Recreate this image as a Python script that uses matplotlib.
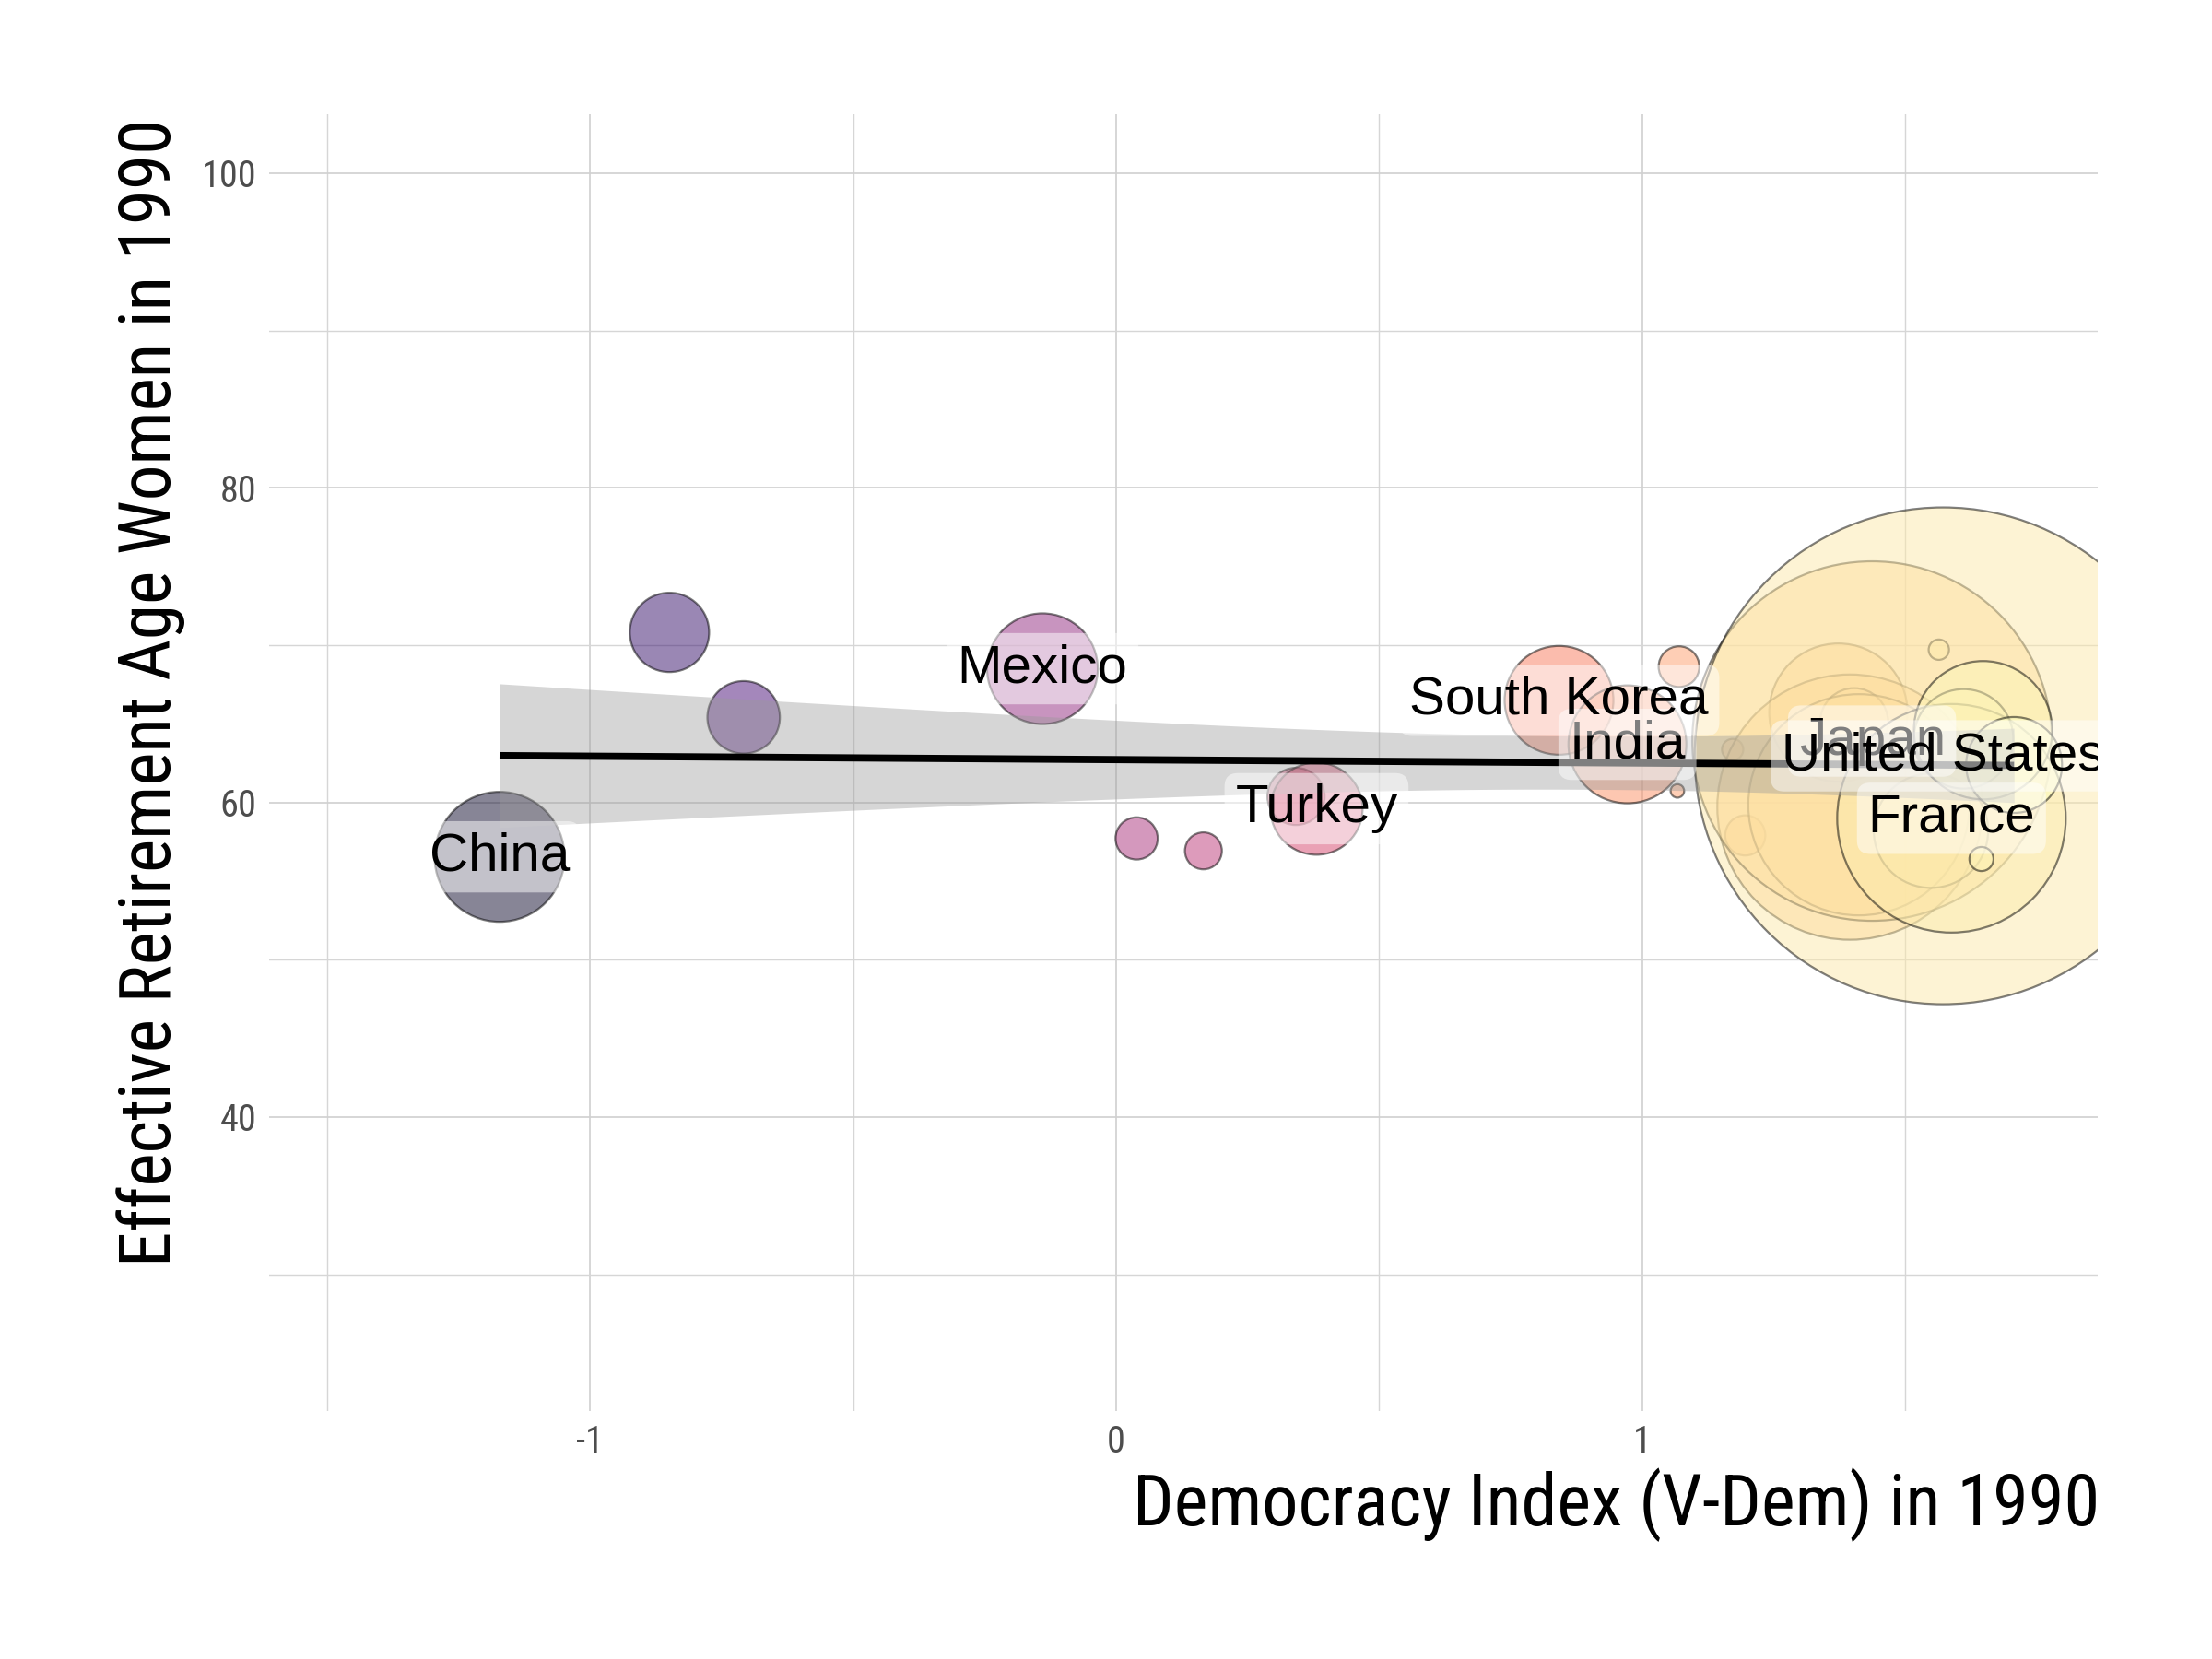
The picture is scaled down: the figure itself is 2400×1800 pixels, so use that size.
import math
import numpy as np
import matplotlib
matplotlib.use("Agg")
import matplotlib.pyplot as plt
from matplotlib import font_manager as fm
from matplotlib.colors import Normalize
from matplotlib.ticker import MultipleLocator

# ---------------- data ----------------
country = ["China", "", "", "Mexico", "", "", "", "Turkey", "South Korea", "India",
           "", "", "", "", "", "", "", "", "Japan", "", "", "United States",
           "France", "", "", "", ""]
democracy_1990 = [-1.172, -0.849, -0.708, -0.140, 0.039, 0.166, 0.342, 0.381, 0.842, 0.972,
                  1.070, 1.067, 1.172, 1.196, 1.373, 1.395, 1.403, 1.412, 1.437, 1.549,
                  1.564, 1.572, 1.588, 1.611, 1.645, 1.648, 1.707]
retire_age_women_1990 = [56.54, 70.81, 65.41, 68.50, 57.71, 56.92, 60.38, 59.60, 66.49, 63.69,
                         68.63, 60.73, 63.36, 57.90, 65.71, 59.70, 65.10, 59.85, 63.90, 58.20,
                         69.71, 62.96, 58.99, 64.04, 56.40, 64.59, 62.38]
gdp_bn_1990 = [408, 152, 127, 296, 43, 33, 79, 205, 286, 336,
               40, 4.4, 11, 39, 462, 1700, 112, 1182, 3122, 316,
               10, 5963, 1262, 239, 14, 462, 222]

colour_limits = (-1.453, 1.708)  # range of the democracy index used by the colour scale
x_ticks = [-1, 0, 1]
y_ticks = [40, 60, 80, 100]
x_title = "Democracy Index (V-Dem) in 1990"
y_title = "Effective Retirement Age Women in 1990"

# ---------------- fonts ----------------
avail = {f.name for f in fm.fontManager.ttflist}


def pick(*names):
    for n in names:
        if n in avail:
            return n
    return "DejaVu Sans"


narrow = pick("Liberation Sans Narrow", "Roboto Condensed", "Arial Narrow", "DejaVu Sans")
narrow_stretch = "condensed" if narrow == "DejaVu Sans" else "normal"
regular = pick("Liberation Sans", "Arial", "Helvetica", "DejaVu Sans")
plt.rcParams["axes.unicode_minus"] = False

x = np.array(democracy_1990, dtype=float)
y = np.array(retire_age_women_1990, dtype=float)
g = np.array(gdp_bn_1990, dtype=float)

# ---------------- figure ----------------
W, H = 2400, 1800
fig = plt.figure(figsize=(12, 9), dpi=200)
fig.patch.set_facecolor("white")
ax = fig.add_axes([292 / W, 1 - 1531 / H, (2276 - 292) / W, (1531 - 124) / H])
ax.set_facecolor("white")
ax.set_xlim(-1.610, 1.866)
ax.set_ylim(21.3, 103.75)

ax.set_xticks(x_ticks)
ax.set_yticks(y_ticks)
ax.xaxis.set_minor_locator(MultipleLocator(0.5))
ax.yaxis.set_minor_locator(MultipleLocator(10))
ax.grid(which="major", color="#d0d0d0", lw=0.6, zorder=0)
ax.grid(which="minor", color="#d6d6d6", lw=0.5, zorder=0)
ax.set_axisbelow(True)
for sp in ax.spines.values():
    sp.set_visible(False)
ax.tick_params(which="both", length=0)
ax.tick_params(axis="both", labelsize=14.5, labelcolor="#4d4d4d", pad=5)
for lab in ax.get_xticklabels() + ax.get_yticklabels():
    lab.set_family(narrow)
    lab.set_stretch(narrow_stretch)

# ---------------- bubbles ----------------
norm = Normalize(vmin=colour_limits[0], vmax=colour_limits[1])
fills = plt.cm.magma(norm(x))
fills[:, 3] = 0.5
sizes = g * 6.315  # marker area in pt^2, proportional to GDP
ax.scatter(x, y, s=sizes, c=fills, edgecolors=(0, 0, 0, 0.5), linewidths=0.8, zorder=2)

# ---------------- linear fit with 95% CI ----------------
n = len(x)
xm, ym = x.mean(), y.mean()
sxx = ((x - xm) ** 2).sum()
b = ((x - xm) * (y - ym)).sum() / sxx
a = ym - b * xm
resid = y - (a + b * x)
s = math.sqrt((resid ** 2).sum() / (n - 2))


def t_quantile(p, df):
    c = math.exp(math.lgamma((df + 1) / 2) - math.lgamma(df / 2)) / math.sqrt(df * math.pi)

    def cdf(t):
        u = np.linspace(0, t, 4001)
        f = c * (1 + u ** 2 / df) ** (-(df + 1) / 2)
        return 0.5 + np.trapezoid(f, u)

    lo, hi = 0.0, 20.0
    for _ in range(60):
        mid = (lo + hi) / 2
        if cdf(mid) < p:
            lo = mid
        else:
            hi = mid
    return (lo + hi) / 2


tq = t_quantile(0.975, n - 2)
xs = np.linspace(x.min(), x.max(), 120)
yhat = a + b * xs
se = s * np.sqrt(1 / n + (xs - xm) ** 2 / sxx)
ax.fill_between(xs, yhat - tq * se, yhat + tq * se, color="#999999", alpha=0.4, lw=0, zorder=3)
ax.plot(xs, yhat, color="black", lw=2.8, solid_capstyle="butt", zorder=4)

# ---------------- labels ----------------
named = sorted([i for i, c in enumerate(country) if c], key=lambda i: country[i])
for k, i in enumerate(named):
    ax.text(x[i], y[i], country[i], ha="center", va="center", fontsize=21,
            family=regular, color="black", zorder=5 + k, clip_on=True,
            bbox=dict(boxstyle="round,pad=0.2,rounding_size=0.25",
                      fc=(1, 1, 1, 0.5), ec="none"))

# ---------------- axis titles ----------------
fig.text(2278 / W, 1 - 1655 / H, x_title, ha="right", va="baseline",
         fontsize=28.2, family=narrow, stretch=narrow_stretch, color="black")
fig.text(201 / W, 1 - 129 / H, y_title, rotation=90, ha="right", va="top",
         fontsize=27.8, family=narrow, stretch=narrow_stretch, color="black")

fig.savefig("out.png", dpi=200, facecolor="white")
